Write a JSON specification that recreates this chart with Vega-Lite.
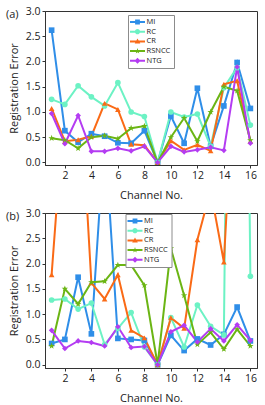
{
  "$schema": "https://vega.github.io/schema/vega-lite/v6.json",
  "padding": {"left": 5, "top": 5, "right": 0, "bottom": 0},
  "datasets": {
    "d": [
      {"panel":"a","method":"MI","channel":1,"value":2.62},{"panel":"a","method":"MI","channel":2,"value":0.63},{"panel":"a","method":"MI","channel":3,"value":0.40},{"panel":"a","method":"MI","channel":4,"value":0.57},{"panel":"a","method":"MI","channel":5,"value":0.52},{"panel":"a","method":"MI","channel":6,"value":0.39},{"panel":"a","method":"MI","channel":7,"value":0.38},{"panel":"a","method":"MI","channel":8,"value":0.63},{"panel":"a","method":"MI","channel":9,"value":0.0},{"panel":"a","method":"MI","channel":10,"value":0.92},{"panel":"a","method":"MI","channel":11,"value":0.38},{"panel":"a","method":"MI","channel":12,"value":1.47},{"panel":"a","method":"MI","channel":13,"value":0.32},{"panel":"a","method":"MI","channel":14,"value":1.12},{"panel":"a","method":"MI","channel":15,"value":1.98},{"panel":"a","method":"MI","channel":16,"value":1.07},
      {"panel":"a","method":"RC","channel":1,"value":1.25},{"panel":"a","method":"RC","channel":2,"value":1.15},{"panel":"a","method":"RC","channel":3,"value":1.52},{"panel":"a","method":"RC","channel":4,"value":1.30},{"panel":"a","method":"RC","channel":5,"value":1.12},{"panel":"a","method":"RC","channel":6,"value":1.58},{"panel":"a","method":"RC","channel":7,"value":1.00},{"panel":"a","method":"RC","channel":8,"value":0.91},{"panel":"a","method":"RC","channel":9,"value":0.0},{"panel":"a","method":"RC","channel":10,"value":1.00},{"panel":"a","method":"RC","channel":11,"value":0.90},{"panel":"a","method":"RC","channel":12,"value":0.96},{"panel":"a","method":"RC","channel":13,"value":0.32},{"panel":"a","method":"RC","channel":14,"value":1.48},{"panel":"a","method":"RC","channel":15,"value":1.88},{"panel":"a","method":"RC","channel":16,"value":0.74},
      {"panel":"a","method":"CR","channel":1,"value":1.07},{"panel":"a","method":"CR","channel":2,"value":0.42},{"panel":"a","method":"CR","channel":3,"value":0.45},{"panel":"a","method":"CR","channel":4,"value":0.52},{"panel":"a","method":"CR","channel":5,"value":1.17},{"panel":"a","method":"CR","channel":6,"value":1.05},{"panel":"a","method":"CR","channel":7,"value":0.36},{"panel":"a","method":"CR","channel":8,"value":0.34},{"panel":"a","method":"CR","channel":9,"value":0.0},{"panel":"a","method":"CR","channel":10,"value":0.43},{"panel":"a","method":"CR","channel":11,"value":0.25},{"panel":"a","method":"CR","channel":12,"value":0.35},{"panel":"a","method":"CR","channel":13,"value":0.23},{"panel":"a","method":"CR","channel":14,"value":1.55},{"panel":"a","method":"CR","channel":15,"value":1.62},{"panel":"a","method":"CR","channel":16,"value":0.42},
      {"panel":"a","method":"RSNCC","channel":1,"value":0.48},{"panel":"a","method":"RSNCC","channel":2,"value":0.44},{"panel":"a","method":"RSNCC","channel":3,"value":0.28},{"panel":"a","method":"RSNCC","channel":4,"value":0.50},{"panel":"a","method":"RSNCC","channel":5,"value":0.53},{"panel":"a","method":"RSNCC","channel":6,"value":0.47},{"panel":"a","method":"RSNCC","channel":7,"value":0.68},{"panel":"a","method":"RSNCC","channel":8,"value":0.72},{"panel":"a","method":"RSNCC","channel":9,"value":0.0},{"panel":"a","method":"RSNCC","channel":10,"value":0.50},{"panel":"a","method":"RSNCC","channel":11,"value":0.88},{"panel":"a","method":"RSNCC","channel":12,"value":0.42},{"panel":"a","method":"RSNCC","channel":13,"value":1.00},{"panel":"a","method":"RSNCC","channel":14,"value":1.50},{"panel":"a","method":"RSNCC","channel":15,"value":1.42},{"panel":"a","method":"RSNCC","channel":16,"value":0.44},
      {"panel":"a","method":"NTG","channel":1,"value":0.97},{"panel":"a","method":"NTG","channel":2,"value":0.37},{"panel":"a","method":"NTG","channel":3,"value":0.93},{"panel":"a","method":"NTG","channel":4,"value":0.22},{"panel":"a","method":"NTG","channel":5,"value":0.22},{"panel":"a","method":"NTG","channel":6,"value":0.28},{"panel":"a","method":"NTG","channel":7,"value":0.23},{"panel":"a","method":"NTG","channel":8,"value":0.32},{"panel":"a","method":"NTG","channel":9,"value":0.0},{"panel":"a","method":"NTG","channel":10,"value":0.32},{"panel":"a","method":"NTG","channel":11,"value":0.21},{"panel":"a","method":"NTG","channel":12,"value":0.25},{"panel":"a","method":"NTG","channel":13,"value":0.30},{"panel":"a","method":"NTG","channel":14,"value":0.24},{"panel":"a","method":"NTG","channel":15,"value":1.89},{"panel":"a","method":"NTG","channel":16,"value":0.38},
      {"panel":"b","method":"MI","channel":1,"value":0.42},{"panel":"b","method":"MI","channel":2,"value":0.50},{"panel":"b","method":"MI","channel":3,"value":1.73},{"panel":"b","method":"MI","channel":4,"value":0.61},{"panel":"b","method":"MI","channel":5,"value":4.6},{"panel":"b","method":"MI","channel":6,"value":0.52},{"panel":"b","method":"MI","channel":7,"value":0.50},{"panel":"b","method":"MI","channel":8,"value":0.48},{"panel":"b","method":"MI","channel":9,"value":0.0},{"panel":"b","method":"MI","channel":10,"value":0.58},{"panel":"b","method":"MI","channel":11,"value":0.28},{"panel":"b","method":"MI","channel":12,"value":0.51},{"panel":"b","method":"MI","channel":13,"value":0.39},{"panel":"b","method":"MI","channel":14,"value":0.60},{"panel":"b","method":"MI","channel":15,"value":1.14},{"panel":"b","method":"MI","channel":16,"value":0.47},
      {"panel":"b","method":"RC","channel":1,"value":1.28},{"panel":"b","method":"RC","channel":2,"value":1.30},{"panel":"b","method":"RC","channel":3,"value":1.10},{"panel":"b","method":"RC","channel":4,"value":1.22},{"panel":"b","method":"RC","channel":5,"value":0.40},{"panel":"b","method":"RC","channel":6,"value":0.72},{"panel":"b","method":"RC","channel":7,"value":1.03},{"panel":"b","method":"RC","channel":8,"value":0.35},{"panel":"b","method":"RC","channel":9,"value":0.0},{"panel":"b","method":"RC","channel":10,"value":0.93},{"panel":"b","method":"RC","channel":11,"value":0.35},{"panel":"b","method":"RC","channel":12,"value":1.18},{"panel":"b","method":"RC","channel":13,"value":0.76},{"panel":"b","method":"RC","channel":14,"value":0.59},{"panel":"b","method":"RC","channel":15,"value":25},{"panel":"b","method":"RC","channel":16,"value":1.75},
      {"panel":"b","method":"CR","channel":1,"value":1.78},{"panel":"b","method":"CR","channel":2,"value":5.3},{"panel":"b","method":"CR","channel":3,"value":6.2},{"panel":"b","method":"CR","channel":4,"value":1.62},{"panel":"b","method":"CR","channel":5,"value":1.30},{"panel":"b","method":"CR","channel":6,"value":1.78},{"panel":"b","method":"CR","channel":7,"value":0.68},{"panel":"b","method":"CR","channel":8,"value":0.53},{"panel":"b","method":"CR","channel":9,"value":0.0},{"panel":"b","method":"CR","channel":10,"value":0.93},{"panel":"b","method":"CR","channel":11,"value":0.72},{"panel":"b","method":"CR","channel":12,"value":2.47},{"panel":"b","method":"CR","channel":13,"value":3.45},{"panel":"b","method":"CR","channel":14,"value":2.03},{"panel":"b","method":"CR","channel":15,"value":6.9},{"panel":"b","method":"CR","channel":16,"value":5.0},
      {"panel":"b","method":"RSNCC","channel":1,"value":0.37},{"panel":"b","method":"RSNCC","channel":2,"value":1.50},{"panel":"b","method":"RSNCC","channel":3,"value":1.20},{"panel":"b","method":"RSNCC","channel":4,"value":1.63},{"panel":"b","method":"RSNCC","channel":5,"value":1.65},{"panel":"b","method":"RSNCC","channel":6,"value":1.97},{"panel":"b","method":"RSNCC","channel":7,"value":1.97},{"panel":"b","method":"RSNCC","channel":8,"value":1.57},{"panel":"b","method":"RSNCC","channel":9,"value":0.0},{"panel":"b","method":"RSNCC","channel":10,"value":2.30},{"panel":"b","method":"RSNCC","channel":11,"value":1.37},{"panel":"b","method":"RSNCC","channel":12,"value":0.40},{"panel":"b","method":"RSNCC","channel":13,"value":0.64},{"panel":"b","method":"RSNCC","channel":14,"value":0.31},{"panel":"b","method":"RSNCC","channel":15,"value":0.70},{"panel":"b","method":"RSNCC","channel":16,"value":0.37},
      {"panel":"b","method":"NTG","channel":1,"value":0.68},{"panel":"b","method":"NTG","channel":2,"value":0.32},{"panel":"b","method":"NTG","channel":3,"value":0.47},{"panel":"b","method":"NTG","channel":4,"value":0.44},{"panel":"b","method":"NTG","channel":5,"value":0.37},{"panel":"b","method":"NTG","channel":6,"value":0.75},{"panel":"b","method":"NTG","channel":7,"value":0.34},{"panel":"b","method":"NTG","channel":8,"value":0.36},{"panel":"b","method":"NTG","channel":9,"value":0.0},{"panel":"b","method":"NTG","channel":10,"value":0.65},{"panel":"b","method":"NTG","channel":11,"value":0.78},{"panel":"b","method":"NTG","channel":12,"value":0.45},{"panel":"b","method":"NTG","channel":13,"value":0.71},{"panel":"b","method":"NTG","channel":14,"value":0.47},{"panel":"b","method":"NTG","channel":15,"value":0.79},{"panel":"b","method":"NTG","channel":16,"value":0.48}
    ]
  },
  "data": {"name": "d"},
  "spacing": 48,
  "bounds": "flush",
  "vconcat": [
    {
      "width": 212, "height": 154,
      "title": {"text": "(a)", "anchor": "start", "frame": "group", "orient": "top", "dx": -39, "dy": 18, "fontSize": 11, "fontWeight": "normal", "color": "#222"},
      "encoding": {
        "x": {"field": "channel", "type": "quantitative", "scale": {"domain": [0.5, 16.5], "nice": false, "zero": false}, "axis": {"values": [2,4,6,8,10,12,14,16], "labelOverlap": false, "title": "Channel No."}},
        "y": {"field": "value", "type": "quantitative", "scale": {"domain": [-0.05, 3], "nice": false, "zero": false}, "axis": {"values": [0,0.5,1,1.5,2,2.5,3], "labelOverlap": false, "format": ".1f", "title": "Registration Error"}}
      },
      "layer": [
        {
          "transform": [{"filter": "datum.panel == 'a'"}],
          "mark": {"type": "line", "strokeWidth": 2, "clip": true},
          "encoding": {
            "color": {"field": "method", "type": "nominal", "scale": {"domain": ["MI","RC","CR","RSNCC","NTG"], "range": ["#2f8ee8","#6cf2c4","#fa6a16","#6bb514","#b43cf2"]}, "legend": null}
          }
        },
        {
          "transform": [{"filter": "datum.panel == 'a'"}],
          "mark": {"type": "point", "filled": true, "size": 32, "opacity": 1, "clip": true},
          "encoding": {
            "color": {"field": "method", "type": "nominal", "scale": {"domain": ["MI","RC","CR","RSNCC","NTG"], "range": ["#2f8ee8","#6cf2c4","#fa6a16","#6bb514","#b43cf2"]}, "legend": null},
            "shape": {"field": "method", "type": "nominal", "scale": {"domain": ["MI","RC","CR","RSNCC","NTG"], "range": ["square","circle","triangle-up","M0,-1.2L0.282,-0.389L1.141,-0.371L0.456,0.149L0.706,0.971L0,0.48L-0.706,0.971L-0.456,0.149L-1.141,-0.371L-0.282,-0.389Z","diamond"]}, "legend": null}
          }
        },
        {
          "transform": [{"filter": "datum.panel == 'none'"}],
          "mark": {"type": "point", "filled": true},
          "encoding": {
            "color": {"field": "method", "type": "nominal", "scale": {"domain": ["MI","RC","CR","RSNCC","NTG"], "range": ["#2f8ee8","#6cf2c4","#fa6a16","#6bb514","#b43cf2"]}, "legend": {"orient": "none", "legendX": 83, "legendY": 4, "title": null}},
            "shape": {"field": "method", "type": "nominal", "scale": {"domain": ["MI","RC","CR","RSNCC","NTG"], "range": [
              "M-1.875,-0.25H1.875V0.25H-1.875Z M-0.6,-0.6H0.6V0.6H-0.6Z",
              "M-1.875,-0.25H1.875V0.25H-1.875Z M-0.65,0A0.65,0.65 0 1,1 0.65,0A0.65,0.65 0 1,1 -0.65,0Z",
              "M-1.875,-0.25H1.875V0.25H-1.875Z M0,-0.75L0.7,0.5L-0.7,0.5Z",
              "M-1.875,-0.25H1.875V0.25H-1.875Z M0,-0.75L0.176,-0.243L0.713,-0.232L0.285,0.093L0.441,0.607L0,0.3L-0.441,0.607L-0.285,0.093L-0.713,-0.232L-0.176,-0.243Z",
              "M-1.875,-0.25H1.875V0.25H-1.875Z M0,-0.75L0.75,0L0,0.75L-0.75,0Z"]}, "legend": {"orient": "none", "legendX": 83, "legendY": 4, "title": null}}
          }
        }
      ],
      "resolve": {"scale": {"shape": "independent", "color": "independent"}}
    },
    {
      "width": 212, "height": 155,
      "title": {"text": "(b)", "anchor": "start", "frame": "group", "orient": "top", "dx": -39, "dy": 18, "fontSize": 11, "fontWeight": "normal", "color": "#222"},
      "encoding": {
        "x": {"field": "channel", "type": "quantitative", "scale": {"domain": [0.5, 16.5], "nice": false, "zero": false}, "axis": {"values": [2,4,6,8,10,12,14,16], "labelOverlap": false, "title": "Channel No."}},
        "y": {"field": "value", "type": "quantitative", "scale": {"domain": [-0.065, 3], "nice": false, "zero": false}, "axis": {"values": [0,0.5,1,1.5,2,2.5,3], "labelOverlap": false, "format": ".1f", "title": "Registration Error"}}
      },
      "layer": [
        {
          "transform": [{"filter": "datum.panel == 'b'"}],
          "mark": {"type": "line", "strokeWidth": 2, "clip": true},
          "encoding": {
            "color": {"field": "method", "type": "nominal", "scale": {"domain": ["MI","RC","CR","RSNCC","NTG"], "range": ["#2f8ee8","#6cf2c4","#fa6a16","#6bb514","#b43cf2"]}, "legend": null}
          }
        },
        {
          "transform": [{"filter": "datum.panel == 'b'"}],
          "mark": {"type": "point", "filled": true, "size": 32, "opacity": 1, "clip": true},
          "encoding": {
            "color": {"field": "method", "type": "nominal", "scale": {"domain": ["MI","RC","CR","RSNCC","NTG"], "range": ["#2f8ee8","#6cf2c4","#fa6a16","#6bb514","#b43cf2"]}, "legend": null},
            "shape": {"field": "method", "type": "nominal", "scale": {"domain": ["MI","RC","CR","RSNCC","NTG"], "range": ["square","circle","triangle-up","M0,-1.2L0.282,-0.389L1.141,-0.371L0.456,0.149L0.706,0.971L0,0.48L-0.706,0.971L-0.456,0.149L-1.141,-0.371L-0.282,-0.389Z","diamond"]}, "legend": null}
          }
        },
        {
          "transform": [{"filter": "datum.panel == 'none'"}],
          "mark": {"type": "point", "filled": true},
          "encoding": {
            "color": {"field": "method", "type": "nominal", "scale": {"domain": ["MI","RC","CR","RSNCC","NTG"], "range": ["#2f8ee8","#6cf2c4","#fa6a16","#6bb514","#b43cf2"]}, "legend": {"orient": "none", "legendX": 80.5, "legendY": 1, "title": null}},
            "shape": {"field": "method", "type": "nominal", "scale": {"domain": ["MI","RC","CR","RSNCC","NTG"], "range": [
              "M-1.875,-0.25H1.875V0.25H-1.875Z M-0.6,-0.6H0.6V0.6H-0.6Z",
              "M-1.875,-0.25H1.875V0.25H-1.875Z M-0.65,0A0.65,0.65 0 1,1 0.65,0A0.65,0.65 0 1,1 -0.65,0Z",
              "M-1.875,-0.25H1.875V0.25H-1.875Z M0,-0.75L0.7,0.5L-0.7,0.5Z",
              "M-1.875,-0.25H1.875V0.25H-1.875Z M0,-0.75L0.176,-0.243L0.713,-0.232L0.285,0.093L0.441,0.607L0,0.3L-0.441,0.607L-0.285,0.093L-0.713,-0.232L-0.176,-0.243Z",
              "M-1.875,-0.25H1.875V0.25H-1.875Z M0,-0.75L0.75,0L0,0.75L-0.75,0Z"]}, "legend": {"orient": "none", "legendX": 80.5, "legendY": 1, "title": null}}
          }
        }
      ],
      "resolve": {"scale": {"shape": "independent", "color": "independent"}}
    }
  ],
  "config": {
    "font": "Open Sans",
    "view": {"stroke": "#333", "strokeWidth": 1},
    "axis": {"grid": false, "labelOverlap": false, "domainColor": "#333", "tickColor": "#333", "tickSize": 3, "labelFontSize": 10.5, "labelColor": "#222", "labelPadding": 2, "titleFontSize": 11, "titleFontWeight": "normal", "titleColor": "#222"},
    "axisX": {"titlePadding": 9},
    "axisY": {"titlePadding": 6},
    "legend": {"strokeColor": "#8c8c8c", "fillColor": "white", "padding": 3, "labelFontSize": 7.5, "labelColor": "#222", "symbolSize": 64, "symbolStrokeWidth": 0, "symbolOpacity": 1, "rowPadding": 1.7, "labelOffset": 5, "symbolOffset": 2.5}
  }
}
